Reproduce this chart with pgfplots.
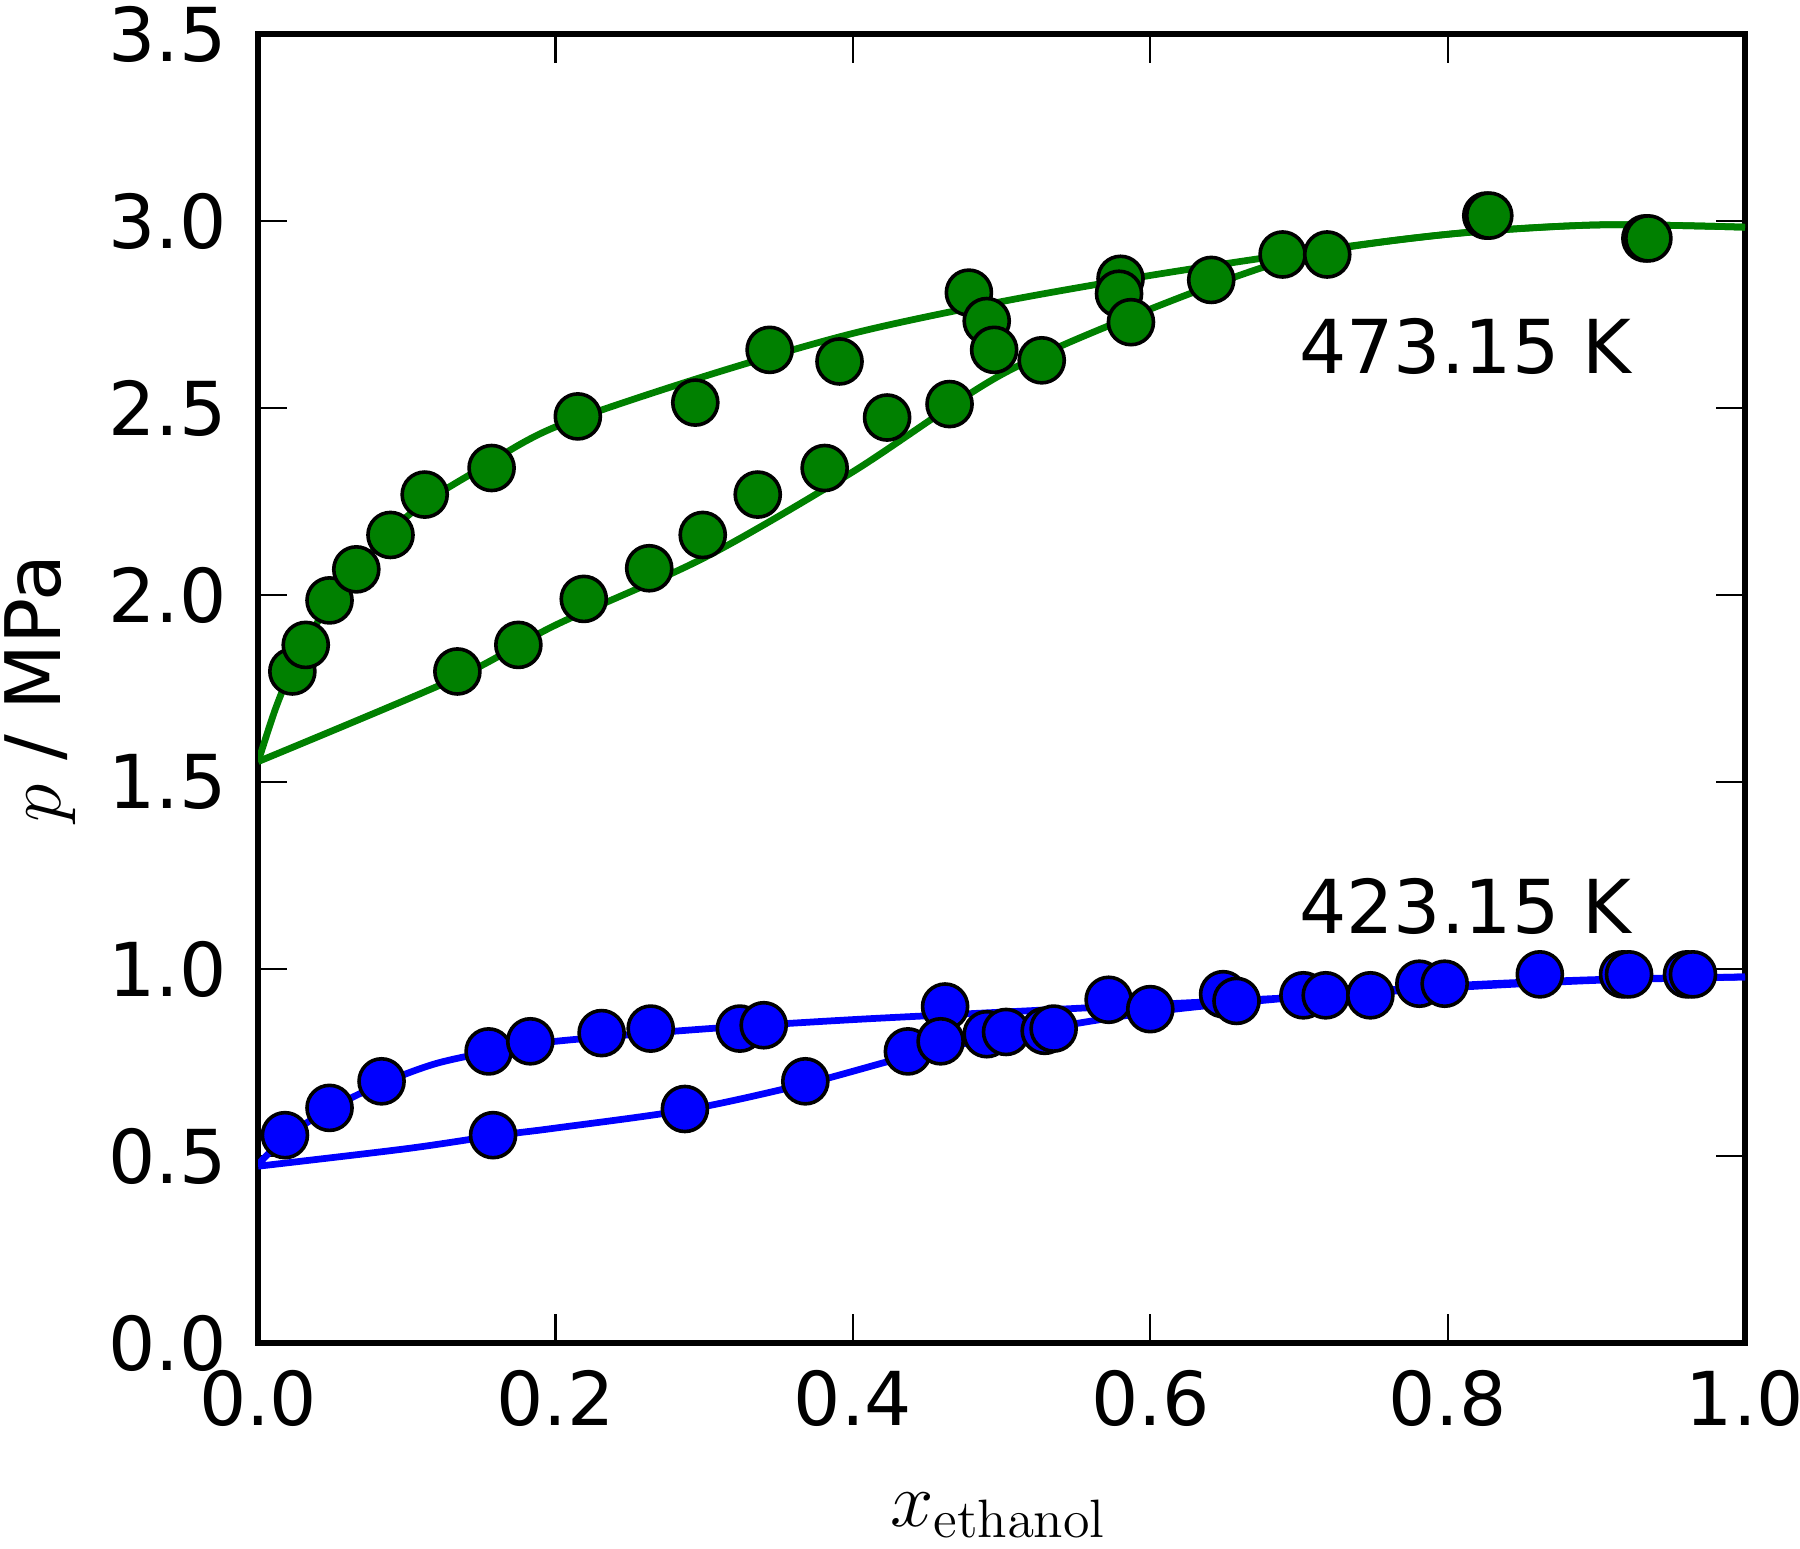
\documentclass[border=0pt]{standalone}
\usepackage{pgfplots}
\pgfplotsset{compat=1.18}
\usepackage[no-math]{fontspec}
\setmainfont{DejaVu Sans}
\definecolor{mplgreen}{rgb}{0,0.5,0}
\definecolor{mplblue}{rgb}{0,0,1}

\begin{document}
\begin{tikzpicture}
\begin{axis}[
    scale only axis,
    width=330pt, height=290.5pt,
    xmin=0, xmax=1, ymin=0, ymax=3.5,
    xtick={0,0.2,...,1.0},
    ytick={0,0.5,...,3.5},
    tick align=inside,
    xtick pos=both, ytick pos=both,
    major tick length=6.4pt,
    tick style={black, line width=0.5pt},
    axis line style={line width=1.3pt},
    /pgf/number format/assume math mode=true,
    /pgf/number format/.cd, fixed, fixed zerofill, precision=1, /pgfplots/.cd,
    ticklabel style={font=\fontsize{16.5}{19}\selectfont},
    xticklabel style={yshift=-2.5pt},
    yticklabel style={xshift=-3.5pt},
    xlabel={$x_{\mathrm{ethanol}}$},
    xlabel style={font=\fontsize{17}{20}\selectfont, at={(axis description cs:0.498,-0.1316)}, anchor=center},
    ylabel={$p$ / MPa},
    ylabel style={font=\fontsize{17}{20}\selectfont, at={(axis description cs:-0.1467,0.5)}, anchor=center},
]
% 473.15 K curves
\addplot[mplgreen, line width=1.5pt, smooth] coordinates {
(0,1.555) (0.012,1.70) (0.023,1.80) (0.05,1.99) (0.1,2.21) (0.15,2.34) (0.2,2.45)
(0.3,2.585) (0.4,2.70) (0.5,2.785) (0.6,2.855) (0.7,2.915) (0.8,2.965) (0.9,2.99) (1.0,2.984)};
\addplot[mplgreen, line width=1.5pt, smooth] coordinates {
(0,1.555) (0.134,1.78) (0.2,1.92) (0.3,2.10) (0.4,2.33) (0.5,2.59) (0.6,2.765)
(0.7,2.905) (0.8,2.965) (0.9,2.99) (1.0,2.984)};
% 423.15 K curves
\addplot[mplblue, line width=1.5pt, smooth] coordinates {
(0,0.478) (0.02,0.555) (0.05,0.63) (0.085,0.697) (0.12,0.748) (0.16,0.782) (0.2,0.807)
(0.3,0.84) (0.4,0.865) (0.5,0.885) (0.6,0.905) (0.7,0.925) (0.8,0.95) (0.9,0.97) (1.0,0.979)};
\addplot[mplblue, line width=1.5pt, smooth] coordinates {
(0,0.473) (0.1,0.52) (0.16,0.555) (0.2,0.575) (0.29,0.625) (0.37,0.695) (0.44,0.77)
(0.5,0.82) (0.6,0.885) (0.7,0.925) (0.8,0.955) (0.9,0.972) (1.0,0.979)};
% 473.15 K data
\addplot[only marks, mark=*, mark size=5pt, mark options={fill=mplgreen, draw=black, line width=0.8pt}] coordinates {
(0.023,1.796) (0.032,1.867) (0.048,1.986) (0.066,2.069) (0.089,2.161) (0.112,2.269)
(0.157,2.340) (0.215,2.478) (0.294,2.515) (0.344,2.656) (0.391,2.625) (0.478,2.809)
(0.490,2.733) (0.495,2.656) (0.580,2.846) (0.579,2.806) (0.587,2.730) (0.641,2.843)
(0.689,2.911) (0.719,2.911) (0.826,3.015) (0.828,3.015) (0.933,2.954) (0.935,2.954)
(0.134,1.796) (0.175,1.867) (0.219,1.990) (0.263,2.072) (0.299,2.161) (0.336,2.269)
(0.381,2.340) (0.423,2.475) (0.465,2.511) (0.527,2.628)};
% 423.15 K data
\addplot[only marks, mark=*, mark size=5pt, mark options={fill=mplblue, draw=black, line width=0.8pt}] coordinates {
(0.018,0.556) (0.048,0.629) (0.083,0.700) (0.155,0.780) (0.183,0.807) (0.231,0.829)
(0.264,0.841) (0.324,0.841) (0.340,0.850) (0.462,0.900) (0.572,0.918) (0.649,0.933)
(0.658,0.915) (0.703,0.930) (0.718,0.930) (0.748,0.930) (0.781,0.961) (0.798,0.961)
(0.862,0.986) (0.918,0.986) (0.922,0.986) (0.961,0.986) (0.965,0.986)
(0.158,0.556) (0.287,0.626) (0.368,0.700) (0.437,0.780) (0.459,0.807) (0.490,0.826)
(0.503,0.832) (0.529,0.835) (0.535,0.841) (0.600,0.893)};
\node[font=\fontsize{16.5}{19}\selectfont] at (axis cs:0.812,2.665) {473.15 K};
\node[font=\fontsize{16.5}{19}\selectfont] at (axis cs:0.812,1.167) {423.15 K};
\coordinate (bl) at (rel axis cs:0,0);
\coordinate (tr) at (rel axis cs:1,1);
\end{axis}
\pgfresetboundingbox
\path[use as bounding box] ([xshift=-57.3pt,yshift=-45.6pt]bl) rectangle ([xshift=12.2pt,yshift=7.6pt]tr);
\end{tikzpicture}
\end{document}
